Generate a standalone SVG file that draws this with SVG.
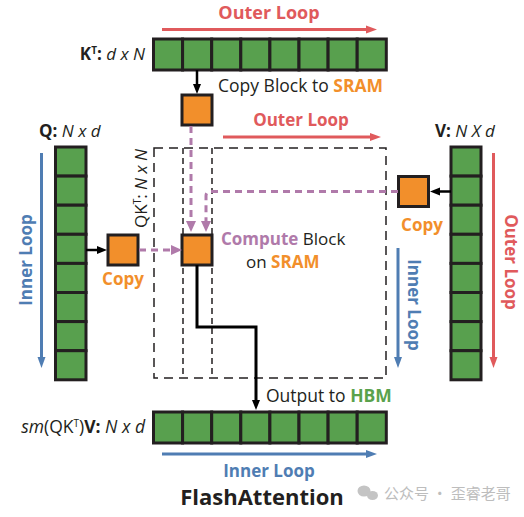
<svg xmlns="http://www.w3.org/2000/svg" width="524" height="517" viewBox="0 0 524 517">
<style>
text{font-family:"Open Sans","Noto Sans",sans-serif;fill:#231f20}
.b{font-weight:bold}
.i{font-style:italic}
.red{fill:#e05a5c}
.blue{fill:#4f7db3}
.org{fill:#f28f2b}
.pur{fill:#b07aaa}
.grn{fill:#5aa24c}
.cell{fill:#58a04e;stroke:#231f20;stroke-width:3}
.blk{fill:#f28f2b;stroke:#231f20;stroke-width:3}
.ln-red{stroke:#e05a5c;stroke-width:3;fill:none}
.ln-blue{stroke:#4f7db3;stroke-width:3;fill:none}
.ln-blk{stroke:#000;stroke-width:2.5;fill:none}
.ln-pur{stroke:#b07aaa;stroke-width:3;fill:none;stroke-dasharray:7 5}
.dash-o{stroke:#231f20;stroke-width:1.5;fill:none;stroke-dasharray:9 6}
.dash-i{stroke:#231f20;stroke-width:1.5;fill:none;stroke-dasharray:6 4}
</style>
<defs>
<marker id="ar" markerUnits="userSpaceOnUse" markerWidth="12" markerHeight="10" refX="4" refY="5" orient="auto"><path d="M0,1 L11,5 L0,9 z" fill="#e05a5c"/></marker>
<marker id="ab" markerUnits="userSpaceOnUse" markerWidth="12" markerHeight="10" refX="4" refY="5" orient="auto"><path d="M0,1 L11,5 L0,9 z" fill="#4f7db3"/></marker>
<marker id="ak" markerUnits="userSpaceOnUse" markerWidth="12" markerHeight="10" refX="4" refY="5" orient="auto"><path d="M0,1 L10,5 L0,9 z" fill="#000"/></marker>
<marker id="ap" markerUnits="userSpaceOnUse" markerWidth="12" markerHeight="12" refX="3" refY="5" orient="auto"><path d="M0,0 L11,5 L0,10 z" fill="#b07aaa"/></marker>
</defs>

<!-- QK^T region (dashed) -->
<g id="qkt">
<rect class="dash-o" x="154" y="148" width="232" height="230"/>
<line class="dash-i" x1="183" y1="148" x2="183" y2="378"/>
<line class="dash-i" x1="212" y1="148" x2="212" y2="378"/>
<text transform="translate(147,228) rotate(-90)" font-size="17">QK<tspan font-size="10" dy="-6">T</tspan><tspan dy="6">: </tspan><tspan class="i">N x N</tspan></text>
</g>

<!-- K^T -->
<g id="kt">
<text x="145" y="60" font-size="17" text-anchor="end"><tspan class="b">K</tspan><tspan class="b" font-size="10" dy="-6">T</tspan><tspan class="b" dy="6">: </tspan><tspan class="i">d x N</tspan></text>
<rect class="cell" x="153.5" y="39" width="29.1" height="31"/>
<rect class="cell" x="182.6" y="39" width="29.1" height="31"/>
<rect class="cell" x="211.7" y="39" width="29.1" height="31"/>
<rect class="cell" x="240.8" y="39" width="29.1" height="31"/>
<rect class="cell" x="269.9" y="39" width="29.1" height="31"/>
<rect class="cell" x="299" y="39" width="29.1" height="31"/>
<rect class="cell" x="328.1" y="39" width="29.1" height="31"/>
<rect class="cell" x="357.2" y="39" width="29.1" height="31"/>
</g>

<!-- Q -->
<g id="q">
<text x="39" y="137" font-size="17"><tspan class="b">Q: </tspan><tspan class="i">N x d</tspan></text>
<rect class="cell" x="55.5" y="147" width="30.5" height="29.1"/>
<rect class="cell" x="55.5" y="176.1" width="30.5" height="29.1"/>
<rect class="cell" x="55.5" y="205.2" width="30.5" height="29.1"/>
<rect class="cell" x="55.5" y="234.3" width="30.5" height="29.1"/>
<rect class="cell" x="55.5" y="263.4" width="30.5" height="29.1"/>
<rect class="cell" x="55.5" y="292.5" width="30.5" height="29.1"/>
<rect class="cell" x="55.5" y="321.6" width="30.5" height="29.1"/>
<rect class="cell" x="55.5" y="350.7" width="30.5" height="29.1"/>
</g>

<!-- V -->
<g id="v">
<text x="435" y="137" font-size="17"><tspan class="b">V: </tspan><tspan class="i">N X d</tspan></text>
<rect class="cell" x="451" y="147" width="30" height="29.1"/>
<rect class="cell" x="451" y="176.1" width="30" height="29.1"/>
<rect class="cell" x="451" y="205.2" width="30" height="29.1"/>
<rect class="cell" x="451" y="234.3" width="30" height="29.1"/>
<rect class="cell" x="451" y="263.4" width="30" height="29.1"/>
<rect class="cell" x="451" y="292.5" width="30" height="29.1"/>
<rect class="cell" x="451" y="321.6" width="30" height="29.1"/>
<rect class="cell" x="451" y="350.7" width="30" height="29.1"/>
</g>

<!-- Output -->
<g id="out">
<text x="145" y="433" font-size="17.5" text-anchor="end"><tspan class="i">sm</tspan>(QK<tspan font-size="10" dy="-6">T</tspan><tspan dy="6">)</tspan><tspan class="b">V: </tspan><tspan class="i">N x d</tspan></text>
<rect class="cell" x="153.5" y="412" width="29.1" height="31"/>
<rect class="cell" x="182.6" y="412" width="29.1" height="31"/>
<rect class="cell" x="211.7" y="412" width="29.1" height="31"/>
<rect class="cell" x="240.8" y="412" width="29.1" height="31"/>
<rect class="cell" x="269.9" y="412" width="29.1" height="31"/>
<rect class="cell" x="299" y="412" width="29.1" height="31"/>
<rect class="cell" x="328.1" y="412" width="29.1" height="31"/>
<rect class="cell" x="357.2" y="412" width="29.1" height="31"/>
</g>

<!-- SRAM blocks -->
<g id="k-block"><rect class="blk" x="182" y="95" width="30" height="30"/></g>
<g id="q-copy"><rect class="blk" x="108" y="235" width="30" height="30"/>
<text class="org b" x="123" y="285" font-size="17" text-anchor="middle">Copy</text></g>
<g id="v-copy"><rect class="blk" x="398.5" y="176.5" width="30" height="30"/>
<text class="org b" x="422" y="231" font-size="17" text-anchor="middle">Copy</text></g>
<g id="compute"><rect class="blk" x="182" y="235" width="30" height="30"/>
<text x="221" y="245" font-size="17"><tspan class="pur b">Compute</tspan> Block</text>
<text x="246" y="268" font-size="17">on <tspan class="org b">SRAM</tspan></text></g>

<!-- connectors -->
<g id="connectors">
<line class="ln-red" x1="162" y1="29.5" x2="370" y2="29.5" marker-end="url(#ar)"/>
<line class="ln-red" x1="223" y1="137" x2="374" y2="137" marker-end="url(#ar)"/>
<line class="ln-red" x1="493.5" y1="153" x2="493.5" y2="361" marker-end="url(#ar)"/>
<line class="ln-blue" x1="41.5" y1="153" x2="41.5" y2="361" marker-end="url(#ab)"/>
<line class="ln-blue" x1="398" y1="248" x2="398" y2="361" marker-end="url(#ab)"/>
<line class="ln-blue" x1="162" y1="454" x2="370" y2="454" marker-end="url(#ab)"/>
<line class="ln-blk" x1="197" y1="70" x2="197" y2="88" marker-end="url(#ak)"/>
<line class="ln-blk" x1="86" y1="250" x2="101" y2="250" marker-end="url(#ak)"/>
<line class="ln-blk" x1="451" y1="191.5" x2="436" y2="191.5" marker-end="url(#ak)"/>
<path d="M197,265 V327 H256 V404" stroke="#000" stroke-width="3" fill="none" marker-end="url(#ak)"/>
<line class="ln-pur" x1="191" y1="126" x2="191" y2="224" marker-end="url(#ap)"/>
<path class="ln-pur" d="M398,191.5 H210 Q206,191.5 206,196 V224" marker-end="url(#ap)"/>
<line class="ln-pur" x1="139" y1="250" x2="174" y2="250" marker-end="url(#ap)"/>
</g>

<!-- labels -->
<g id="labels">
<text class="red b" x="269" y="19" font-size="18" text-anchor="middle">Outer Loop</text>
<text x="218" y="92" font-size="17.5">Copy Block to <tspan class="org b">SRAM</tspan></text>
<text class="red b" x="301" y="126" font-size="17" text-anchor="middle">Outer Loop</text>
<text class="blue b" transform="translate(32,260) rotate(-90)" font-size="17" text-anchor="middle">Inner Loop</text>
<text class="red b" transform="translate(505,262) rotate(90)" font-size="17" text-anchor="middle">Outer Loop</text>
<text class="blue b" transform="translate(408,305) rotate(90)" font-size="17" text-anchor="middle">Inner Loop</text>
<text x="266" y="402" font-size="17.5">Output to <tspan class="grn b">HBM</tspan></text>
<text class="blue b" x="269" y="477" font-size="17" text-anchor="middle">Inner Loop</text>
<text class="b" x="262" y="505" font-size="22" text-anchor="middle">FlashAttention</text>
</g>

<!-- watermark -->
<g id="watermark" fill="#c4c4c4">
<ellipse cx="364" cy="491" rx="6.5" ry="5.5"/>
<ellipse cx="372.5" cy="495.5" rx="5.5" ry="4.5"/>
<text x="384" y="499" font-size="15" style="fill:#bdbdbd;font-family:'Noto Sans CJK SC','Noto Sans',sans-serif">公众号 · 歪睿老哥</text>
</g>
</svg>
